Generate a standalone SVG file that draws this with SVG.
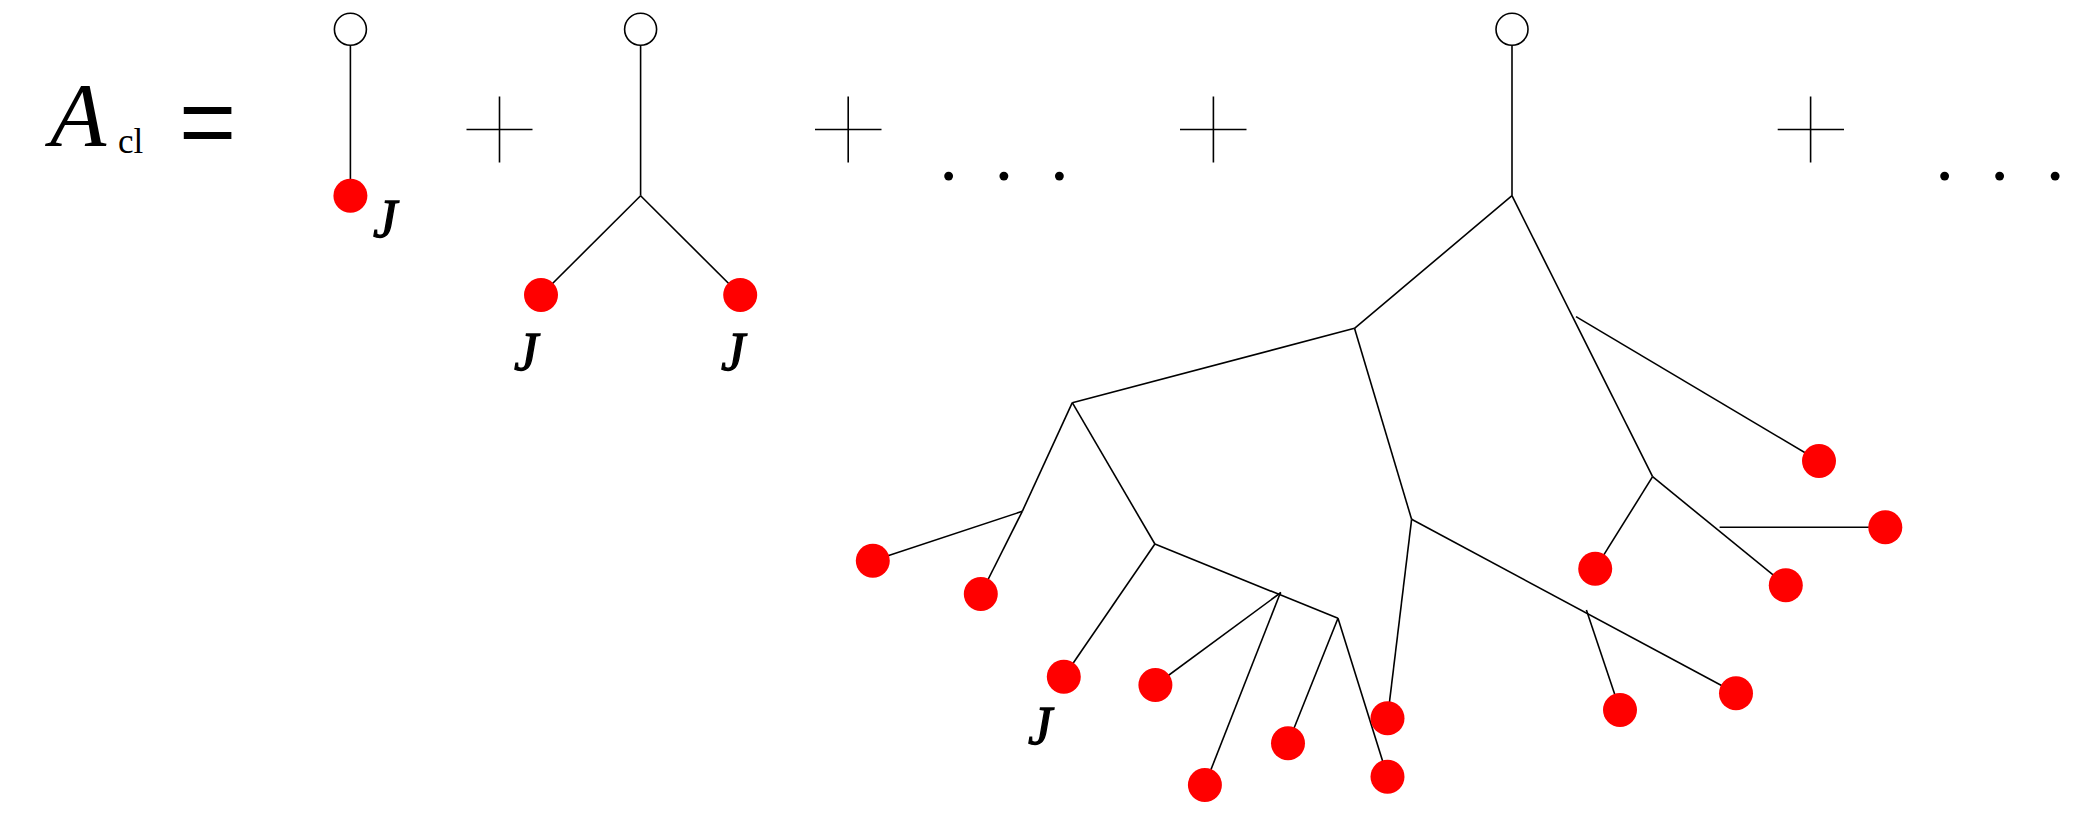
<svg xmlns="http://www.w3.org/2000/svg" width="2096" height="818" viewBox="0 0 2096 818">
<style>
.e{stroke:#000;stroke-width:1.6;fill:none;stroke-linecap:butt}
.o{fill:#fff;stroke:#000;stroke-width:1.6}
.r{fill:#ff0000}
.t{font-family:"Liberation Serif","Times New Roman",serif;fill:#000}
.j{font-family:"Liberation Serif","Times New Roman",serif;font-style:italic;font-size:54px;fill:#000;stroke:#000;stroke-width:1.3}
.p{stroke:#000;stroke-width:1.6}
</style>
<rect width="2096" height="818" fill="#fff"/>
<g id="lhs">
<text class="t" x="50" y="146" font-size="92" font-style="italic">A</text>
<text class="t" x="118" y="153" font-size="35">cl</text>
<text x="179" y="156" font-family="Liberation Sans,Arial,sans-serif" font-size="98">=</text>
</g>
<g id="ops">
<g class="p"><line x1="466.5" y1="129.5" x2="532.5" y2="129.5"/><line x1="499.5" y1="96.5" x2="499.5" y2="162.5"/></g>
<g class="p"><line x1="815" y1="129.5" x2="881.5" y2="129.5"/><line x1="848.2" y1="96.5" x2="848.2" y2="162.5"/></g>
<g class="p"><line x1="1180" y1="129.5" x2="1246.5" y2="129.5"/><line x1="1213.4" y1="96.5" x2="1213.4" y2="162.5"/></g>
<g class="p"><line x1="1777.7" y1="129.5" x2="1844" y2="129.5"/><line x1="1810.6" y1="96.5" x2="1810.6" y2="162.5"/></g>
<text class="t" font-size="75" x="939.3 994.6 1050" y="180">...</text>
<text class="t" font-size="75" x="1935.2 1990.2 2045.7" y="180">...</text>
</g>
<g id="connectors" class="e">
<line x1="350.4" y1="45.5" x2="350.4" y2="195.7"/>
<line x1="640.6" y1="45.5" x2="640.6" y2="195.7"/>
<line x1="640.6" y1="195.7" x2="541" y2="295"/>
<line x1="640.6" y1="195.7" x2="740.2" y2="295"/>
<line x1="1512" y1="45.5" x2="1512" y2="195.7"/>
<line x1="1512" y1="195.7" x2="1354.5" y2="328.3"/>
<line x1="1512" y1="195.7" x2="1652.6" y2="476.7"/>
<line x1="1576" y1="316.6" x2="1819" y2="461"/>
<line x1="1652.6" y1="476.7" x2="1595.2" y2="568.7"/>
<line x1="1652.6" y1="476.7" x2="1785.8" y2="585.3"/>
<line x1="1719.6" y1="527.3" x2="1885.3" y2="527.3"/>
<line x1="1354.5" y1="328.3" x2="1411.6" y2="519.3"/>
<line x1="1411.6" y1="519.3" x2="1387.5" y2="718.3"/>
<line x1="1411.6" y1="519.3" x2="1736" y2="693.3"/>
<line x1="1586.4" y1="610" x2="1620" y2="710"/>
<line x1="1354.5" y1="328.3" x2="1072.3" y2="402.7"/>
<line x1="1072.3" y1="402.7" x2="1022.3" y2="511.3"/>
<line x1="1022.3" y1="511.3" x2="980.8" y2="594"/>
<line x1="1022.3" y1="511.3" x2="872.8" y2="560.7"/>
<line x1="1072.3" y1="402.7" x2="1154.9" y2="544"/>
<line x1="1154.9" y1="544" x2="1063.8" y2="676.7"/>
<line x1="1154.9" y1="544" x2="1338" y2="618.3"/>
<line x1="1281" y1="592.5" x2="1155.4" y2="685"/>
<line x1="1280.5" y1="592.5" x2="1204.9" y2="785"/>
<line x1="1338" y1="618.3" x2="1288" y2="743.3"/>
<line x1="1338" y1="618.3" x2="1387.5" y2="776.7"/>
</g>
<g id="term1">
<circle id="term1-root" class="o" cx="350.4" cy="29.3" r="16"/>
<circle id="term1-src" class="r" cx="350.4" cy="195.7" r="17"/>
<text class="j" x="373" y="237">J</text>
</g>
<g id="term2">
<circle id="term2-root" class="o" cx="640.6" cy="29.3" r="16"/>
<circle id="term2-src1" class="r" cx="541" cy="295" r="17"/>
<circle id="term2-src2" class="r" cx="740.2" cy="295" r="17"/>
<text class="j" x="514" y="370">J</text>
<text class="j" x="721" y="370">J</text>
</g>
<g id="term3">
<circle id="term3-root" class="o" cx="1512" cy="29.3" r="16"/>
<circle id="s1" class="r" cx="872.8" cy="560.7" r="17"/>
<circle id="s2" class="r" cx="980.8" cy="594" r="17"/>
<circle id="s3" class="r" cx="1063.8" cy="676.7" r="17"/>
<circle id="s4" class="r" cx="1155.4" cy="685" r="17"/>
<circle id="s5" class="r" cx="1204.9" cy="785" r="17"/>
<circle id="s6" class="r" cx="1288" cy="743.3" r="17"/>
<circle id="s7" class="r" cx="1387.5" cy="776.7" r="17"/>
<circle id="s8" class="r" cx="1387.5" cy="718.3" r="17"/>
<circle id="s9" class="r" cx="1620" cy="710" r="17"/>
<circle id="s10" class="r" cx="1736" cy="693.3" r="17"/>
<circle id="s11" class="r" cx="1595.2" cy="568.7" r="17"/>
<circle id="s12" class="r" cx="1785.8" cy="585.3" r="17"/>
<circle id="s13" class="r" cx="1885.3" cy="527.3" r="17"/>
<circle id="s14" class="r" cx="1819" cy="461" r="17"/>
<text class="j" x="1028" y="744">J</text>
</g>
</svg>
